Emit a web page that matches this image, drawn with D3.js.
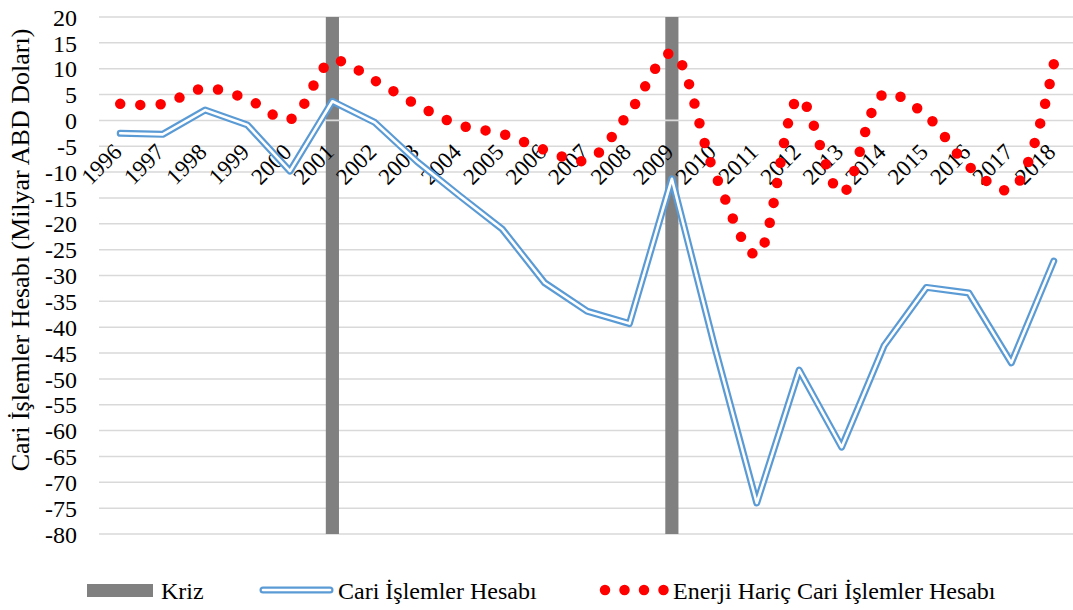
<!DOCTYPE html>
<html>
<head>
<meta charset="utf-8">
<script src="https://cdn.jsdelivr.net/npm/d3@7"></script>
<style>
    body { margin: 0; background: #fff; }
    text { font-family: "Liberation Serif", "Times New Roman", serif; fill: #000; }
</style>
</head>
<body>
<script>
    // chart data (Milyar ABD Doları)
    const years = ["1996", "1997", "1998", "1999", "2000", "2001", "2002", "2003", "2004", "2005", "2006", "2007",
        "2008", "2009", "2010", "2011", "2012", "2013", "2014", "2015", "2016", "2017", "2018"];
    const cariIslemler = [-2.5, -2.7, 2.0, -0.9, -9.8, 3.7, -0.4, -8.0, -14.6, -21.0, -31.4, -36.9,
        -39.3, -11.3, -43.5, -74.0, -48.3, -63.2, -43.6, -32.3, -33.4, -46.9, -27.2];
    const enerjiHaric = [3.2, 3.2, 6.2, 4.1, 0.2, 11.5, 7.7, 3.0, -0.9, -2.6, -5.7, -7.7,
        1.6, 13.0, -10.0, -26.0, 4.3, -14.1, 5.1, 0.9, -8.9, -13.4, 10.9];
    const krizYears = ["2001", "2009"];
    const krizTop = 20, krizBottom = -80;
    const yTicks = [20, 15, 10, 5, 0, -5, -10, -15, -20, -25, -30, -35, -40, -45, -50, -55, -60, -65, -70, -75, -80];
    const legendLabels = ["Kriz", "Cari İşlemler Hesabı", "Enerji Hariç Cari İşlemler Hesabı"];

    const width = 1073, height = 610;
    const svg = d3.select("body").append("svg")
        .attr("width", width)
        .attr("height", height);

    const x = d3.scaleBand().domain(years).range([99, 1075]);
    const cx = d => x(d) + x.bandwidth() / 2;
    const y = d3.scaleLinear().domain([-80, 20]).range([534, 17]);

    // gridlines
    svg.append("g")
        .selectAll("line")
        .data(yTicks)
        .join("line")
        .attr("x1", 99).attr("x2", width)
        .attr("y1", d => y(d)).attr("y2", d => y(d))
        .attr("stroke", "#d9d9d9")
        .attr("stroke-width", 1.5);

    // crisis bars (stacked: positive and negative part)
    const barW = x.bandwidth() * 0.31;
    const kriz = svg.append("g").attr("fill", "#808080");
    kriz.selectAll("rect.pos")
        .data(krizYears)
        .join("rect")
        .attr("class", "pos")
        .attr("x", d => cx(d) - barW / 2)
        .attr("width", barW)
        .attr("y", y(krizTop))
        .attr("height", y(0) - y(krizTop) - 0.8);
    kriz.selectAll("rect.neg")
        .data(krizYears)
        .join("rect")
        .attr("class", "neg")
        .attr("x", d => cx(d) - barW / 2)
        .attr("width", barW)
        .attr("y", y(0) + 0.8)
        .attr("height", y(krizBottom) - y(0) - 0.8);

    // y tick labels
    const yAxis = svg.append("g")
        .attr("transform", "translate(77,0)")
        .call(d3.axisLeft(y).tickValues(yTicks).tickSize(0).tickPadding(0).tickFormat(d3.format("d")));
    yAxis.attr("font-family", null);
    yAxis.select(".domain").remove();
    yAxis.selectAll("text")
        .attr("font-size", 24)
        .attr("dy", "0.34em")
        .text(d => d < 0 ? "-" + Math.abs(d) : d);

    // x tick labels, rotated
    svg.append("g")
        .selectAll("text")
        .data(years)
        .join("text")
        .attr("font-size", 23)
        .attr("text-anchor", "end")
        .attr("transform", d => `translate(${cx(d) + 3},${y(0) + 33}) rotate(-45)`)
        .text(d => d);

    // y axis title
    svg.append("text")
        .attr("font-size", 26)
        .attr("text-anchor", "middle")
        .attr("transform", "translate(29,250) rotate(-90)")
        .text("Cari İşlemler Hesabı (Milyar ABD Doları)");

    // Cari İşlemler Hesabı: double line
    const line = d3.line()
        .x((d, i) => cx(years[i]))
        .y(d => y(d));
    svg.append("path")
        .datum(cariIslemler)
        .attr("d", line)
        .attr("fill", "none")
        .attr("stroke", "#5b9bd5")
        .attr("stroke-width", 7)
        .attr("stroke-linejoin", "round")
        .attr("stroke-linecap", "round");
    svg.append("path")
        .datum(cariIslemler)
        .attr("d", line)
        .attr("fill", "none")
        .attr("stroke", "#fff")
        .attr("stroke-width", 2.6)
        .attr("stroke-linejoin", "round")
        .attr("stroke-linecap", "round");

    // Enerji Hariç: smoothed round-dot line
    const smooth = d3.line()
        .x((d, i) => cx(years[i]))
        .y(d => y(d))
        .curve(d3.curveCatmullRom.alpha(0.5));
    const red = svg.append("path")
        .datum(enerjiHaric)
        .attr("d", smooth)
        .attr("fill", "none")
        .attr("stroke", "#ff0000")
        .attr("stroke-width", 10.5)
        .attr("stroke-linecap", "round");
    // spread the dots so one lands near each end of the curve
    const len = red.node().getTotalLength();
    const nDots = Math.round(len / 20.3);
    const gap = (len - 1.5) / nDots;
    red.attr("stroke-dasharray", `0 ${gap}`);

    // legend
    const leg = svg.append("g");
    leg.append("rect")
        .attr("x", 87).attr("y", 584).attr("width", 66).attr("height", 13)
        .attr("fill", "#808080");
    leg.append("text").attr("x", 161).attr("y", 599).attr("font-size", 24).text(legendLabels[0]);

    leg.append("line")
        .attr("x1", 263).attr("x2", 330).attr("y1", 590).attr("y2", 590)
        .attr("stroke", "#5b9bd5").attr("stroke-width", 7).attr("stroke-linecap", "round");
    leg.append("line")
        .attr("x1", 263).attr("x2", 330).attr("y1", 590).attr("y2", 590)
        .attr("stroke", "#fff").attr("stroke-width", 2.6).attr("stroke-linecap", "round");
    leg.append("text").attr("x", 338).attr("y", 599).attr("font-size", 24).text(legendLabels[1]);

    leg.append("line")
        .attr("x1", 605).attr("x2", 664).attr("y1", 590).attr("y2", 590)
        .attr("stroke", "#ff0000").attr("stroke-width", 10.5)
        .attr("stroke-linecap", "round").attr("stroke-dasharray", "0 19.5");
    leg.append("text").attr("x", 673).attr("y", 599).attr("font-size", 24).text(legendLabels[2]);
</script>
</body>
</html>
